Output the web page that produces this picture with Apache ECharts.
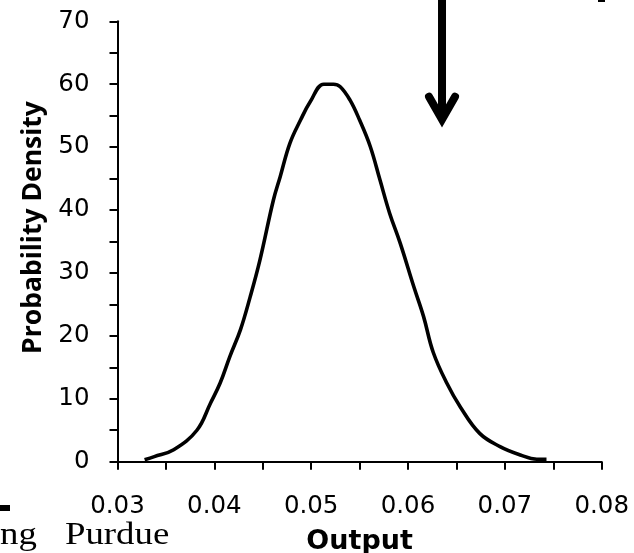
<!DOCTYPE html>
<html><head><meta charset="utf-8">
<script src="https://cdn.jsdelivr.net/npm/echarts@6/dist/echarts.min.js"></script>
<style>html,body{margin:0;padding:0;background:#fff}#c{width:634px;height:553px}</style>
</head><body><div id="c"></div>
<script>
var outputX = [0.0328, 0.0338, 0.0358, 0.0382, 0.0396, 0.0406, 0.0416, 0.0427, 0.0437, 0.0447, 0.0461, 0.0468, 0.0478, 0.0489, 0.0499, 0.0513, 0.0523, 0.0530, 0.0540, 0.0550, 0.0561, 0.0571, 0.0581, 0.0592, 0.0606, 0.0616, 0.0626, 0.0640, 0.0654, 0.0674, 0.0695, 0.0716, 0.0733, 0.0743];
var densityY = [0.3, 0.8, 1.9, 5.0, 9.3, 12.5, 16.7, 21.0, 26.2, 32.0, 41.6, 45.3, 50.6, 54.3, 57.2, 60.0, 60.0, 59.6, 57.5, 54.3, 50.1, 44.8, 39.5, 34.7, 27.8, 23.1, 17.4, 12.5, 8.7, 4.5, 2.4, 1.07, 0.4, 0.4];
var xTickLabels = ['0.03', '0.04', '0.05', '0.06', '0.07', '0.08'];
var yTickLabels = ['0', '10', '20', '30', '40', '50', '60', '70'];
var arrowX = 0.06351;
var arrowShaftY = [75, 55.0];
var arrowHeadX = [0.06217, 0.06351, 0.06485];
var arrowHeadY = [58.0, 54.4, 58.0];

var curve = outputX.map(function (x, i) { return [x, densityY[i]]; });
var shaft = arrowShaftY.map(function (y) { return [arrowX, y]; });
var head = arrowHeadX.map(function (x, i) { return [x, arrowHeadY[i]]; });

var tickFont = '"DejaVu Sans", sans-serif';
var nameFont = '"Open Sans", "Noto Sans", sans-serif';
var chart = echarts.init(document.getElementById('c'), null, {renderer: 'canvas'});
chart.setOption({
  animation: false,
  backgroundColor: '#fff',
  grid: {left: 117.5, right: 32.3, top: 21.3, bottom: 91.3, containLabel: false, outerBoundsMode: 'none'},
  xAxis: {
    type: 'value', min: 0.03, max: 0.08, interval: 0.005,
    name: 'Output', nameLocation: 'middle', nameGap: 67,
    nameTextStyle: {fontFamily: tickFont, fontWeight: 'bold', fontSize: 27, color: '#000'},
    axisLine: {show: true, lineStyle: {color: '#000', width: 2}},
    axisTick: {show: true, length: 8, inside: false, lineStyle: {color: '#000', width: 2}},
    splitLine: {show: false},
    axisLabel: {
      margin: 32, fontFamily: tickFont, fontSize: 24.5, color: '#000',
      showMinLabel: true, showMaxLabel: true,
      formatter: function (v) {
        var k = Math.round(v * 1000);
        if (k % 10 !== 0) return '';
        var idx = Math.round((v - 0.03) / 0.01);
        return xTickLabels[idx] || '';
      }
    }
  },
  yAxis: {
    type: 'value', min: 0, max: 70, interval: 5,
    name: 'Probability Density', nameLocation: 'middle', nameGap: 67, nameRotate: 90,
    nameTextStyle: {fontFamily: nameFont, fontWeight: 'bold', fontSize: 26.5, color: '#000', padding: [0, 0, 0, 28]},
    axisLine: {show: true, lineStyle: {color: '#000', width: 2}},
    axisTick: {show: true, length: 8, inside: false, lineStyle: {color: '#000', width: 2}},
    splitLine: {show: false},
    axisLabel: {
      margin: 28, fontFamily: tickFont, fontSize: 24.5, color: '#000',
      formatter: function (v) {
        if (Math.round(v) % 10 !== 0) return '';
        return yTickLabels[Math.round(v / 10)] || '';
      }
    }
  },
  series: [
    {type: 'line', data: curve, smooth: 0.4, symbol: 'none', clip: false,
     lineStyle: {color: '#000', width: 3.6}},
    {type: 'line', data: shaft, symbol: 'none', clip: false,
     lineStyle: {color: '#000', width: 8, cap: 'butt'}},
    {type: 'line', data: head, symbol: 'none', clip: false,
     lineStyle: {color: '#000', width: 8, cap: 'round', join: 'miter'}}
  ],
  graphic: [
    {type: 'text', x: 0, y: 520, scaleX: 1.15, style: {text: 'ng', font: '32px "Liberation Serif", serif', fill: '#000'}},
    {type: 'text', x: 65, y: 520, scaleX: 1.15, style: {text: 'Purdue', font: '32px "Liberation Serif", serif', fill: '#000'}},
    {type: 'rect', shape: {x: 0, y: 505, width: 10, height: 6}, style: {fill: '#000'}},
    {type: 'rect', shape: {x: 598, y: 0, width: 7, height: 2}, style: {fill: '#000'}}
  ]
});
</script>
</body></html>
